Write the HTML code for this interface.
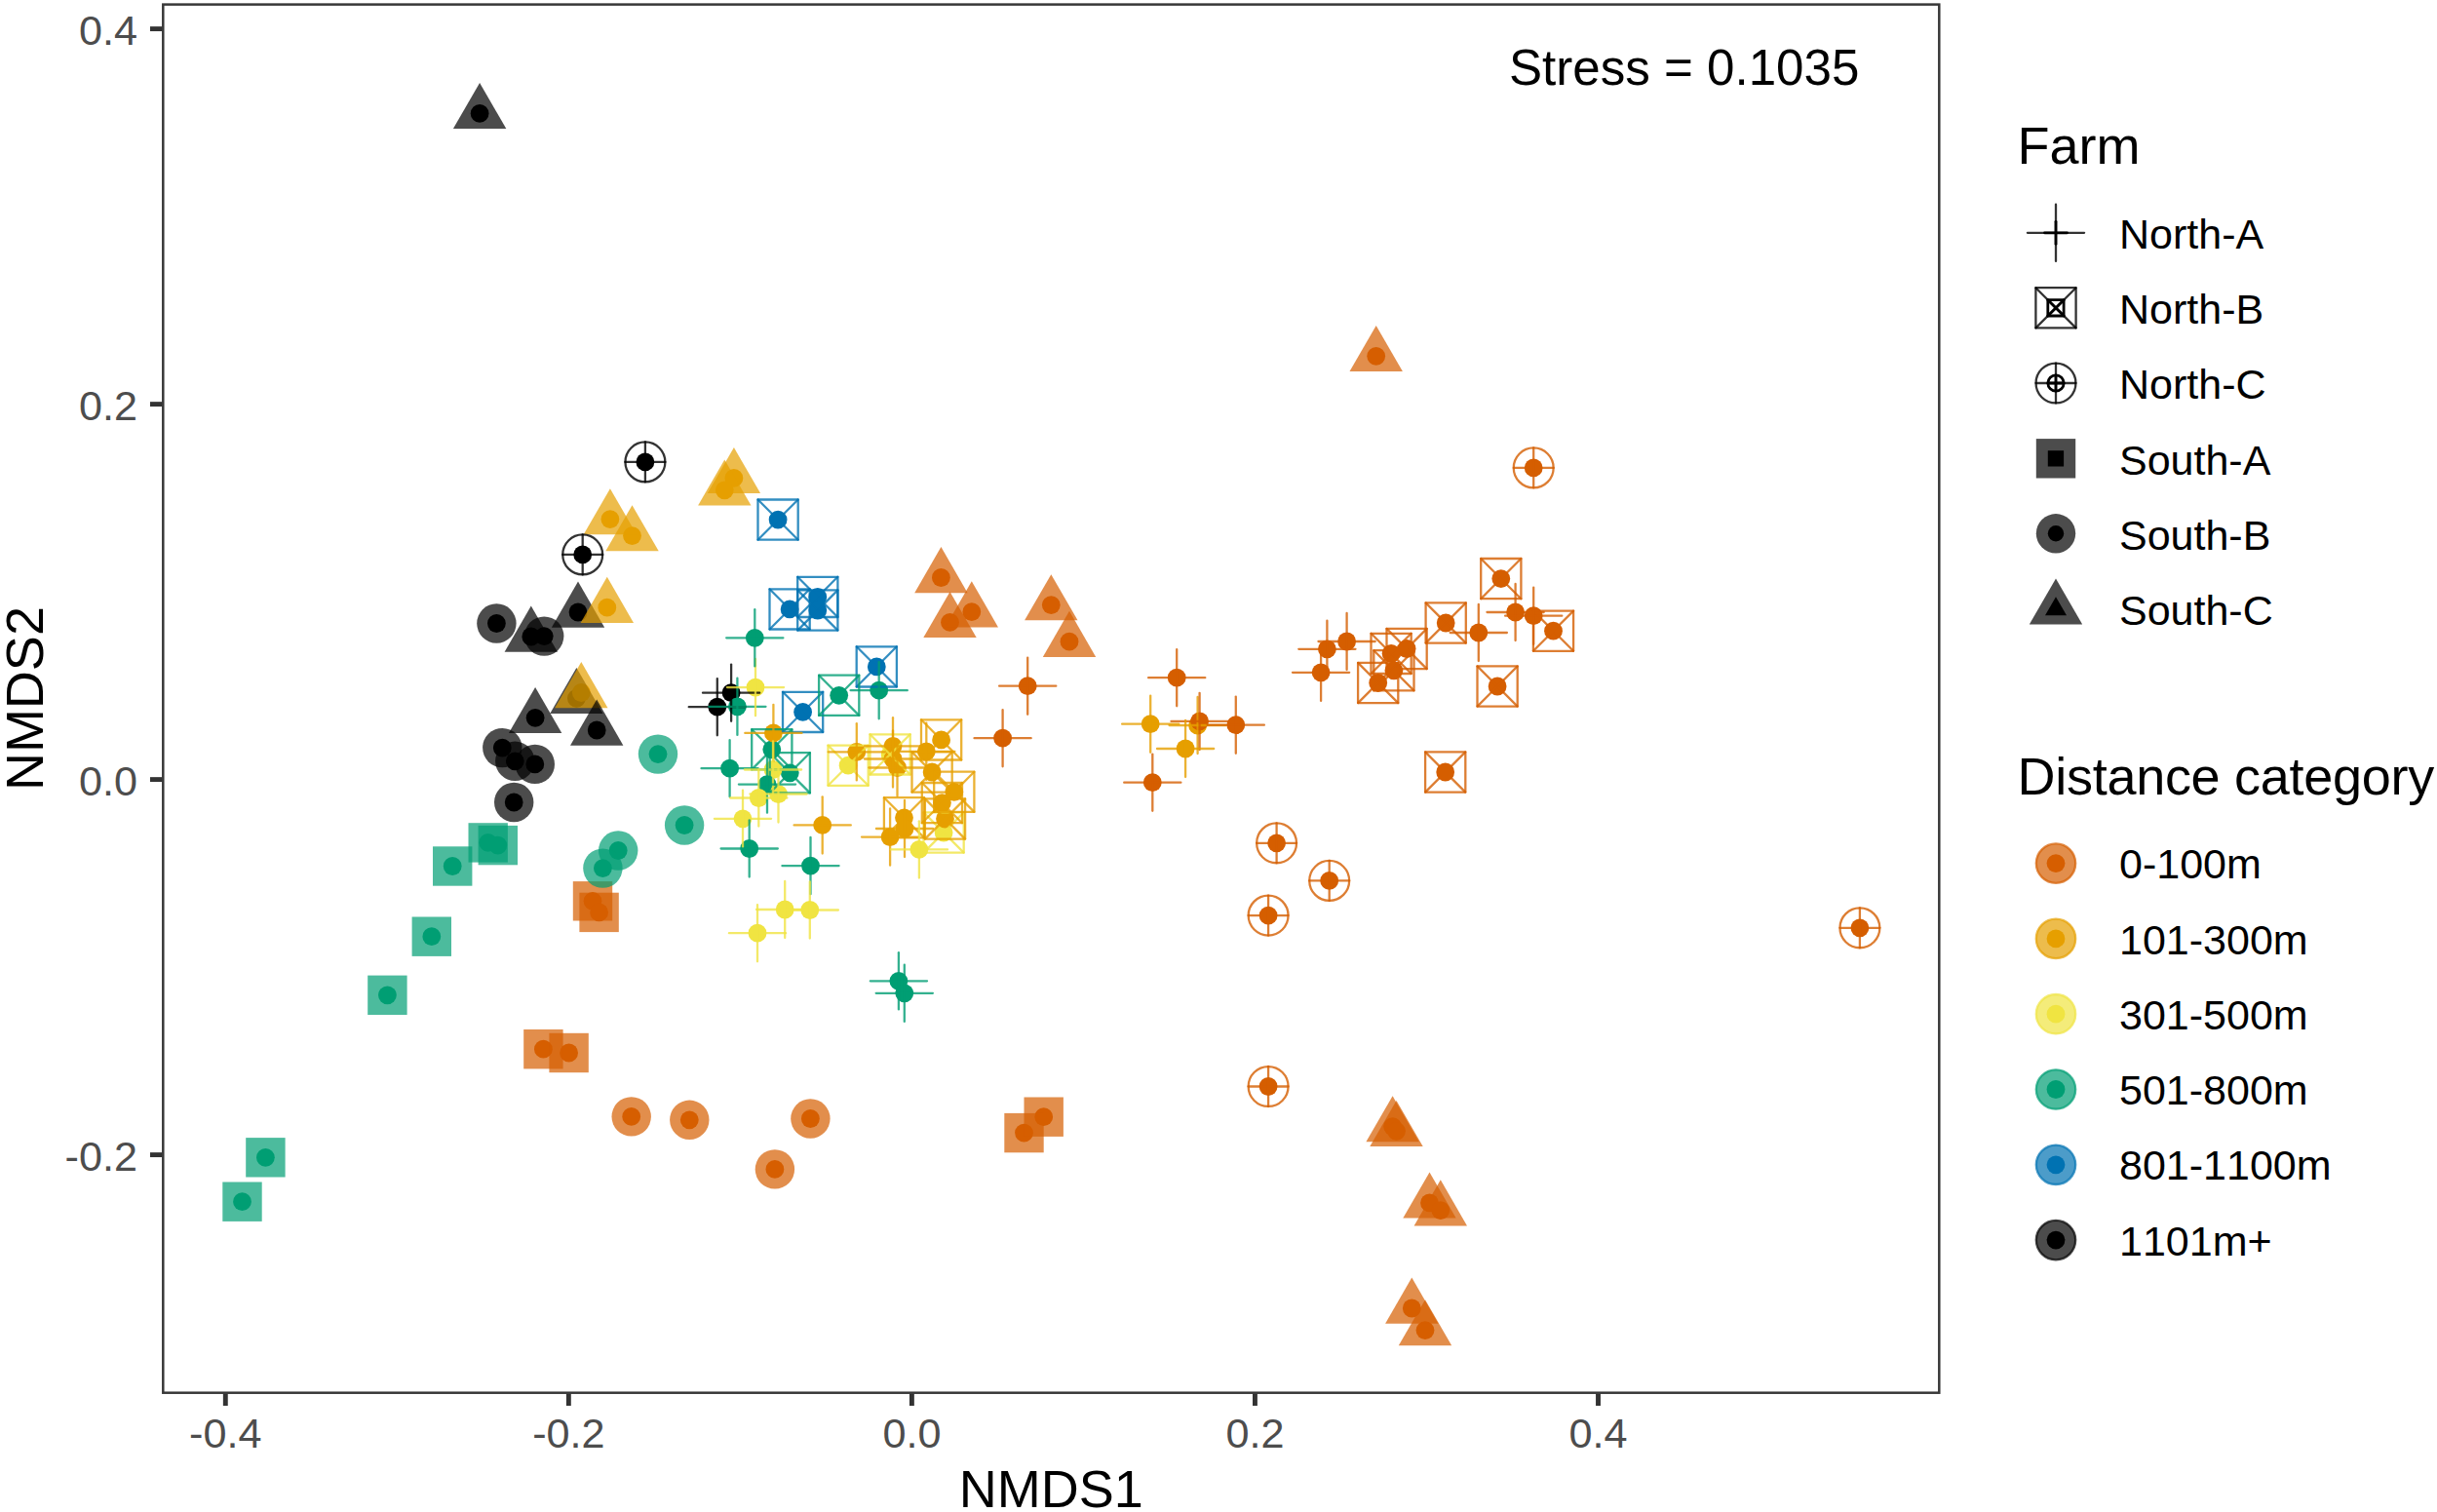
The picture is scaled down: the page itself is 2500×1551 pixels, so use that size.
<!DOCTYPE html>
<html><head><meta charset="utf-8"><title>NMDS plot</title>
<style>
html,body{margin:0;padding:0;background:#fff}
svg{display:block}
text{font-family:"Liberation Sans",Arial,sans-serif;font-kerning:none}
.tk{font-size:43.2px;fill:#4d4d4d}
.tt{font-size:54px;fill:#000}
.lg{font-size:43.0px;fill:#000}
</style></head><body>
<svg width="2500" height="1551" viewBox="0 0 2500 1551">
<rect width="2500" height="1551" fill="#fff"/>
<g id="dots">
<circle cx="492.1" cy="116.4" r="9.4" fill="#000000"/>
<circle cx="625.9" cy="532.6" r="9.4" fill="#E69F00"/>
<circle cx="648.5" cy="549.6" r="9.4" fill="#E69F00"/>
<circle cx="752.9" cy="490.4" r="9.4" fill="#E69F00"/>
<circle cx="743.3" cy="502.8" r="9.4" fill="#E69F00"/>
<circle cx="593" cy="628" r="9.4" fill="#000000"/>
<circle cx="622.8" cy="623.2" r="9.4" fill="#E69F00"/>
<circle cx="544.8" cy="653" r="9.4" fill="#000000"/>
<circle cx="591.4" cy="716.3" r="9.4" fill="#000000"/>
<circle cx="596.3" cy="710.5" r="9.4" fill="#E69F00"/>
<circle cx="549.1" cy="736.3" r="9.4" fill="#000000"/>
<circle cx="612.2" cy="749" r="9.4" fill="#000000"/>
<circle cx="965.4" cy="592.5" r="9.4" fill="#D55E00"/>
<circle cx="974.5" cy="638.4" r="9.4" fill="#D55E00"/>
<circle cx="996.8" cy="627.7" r="9.4" fill="#D55E00"/>
<circle cx="1078.3" cy="620.6" r="9.4" fill="#D55E00"/>
<circle cx="1097" cy="658.2" r="9.4" fill="#D55E00"/>
<circle cx="1411.7" cy="365.3" r="9.4" fill="#D55E00"/>
<circle cx="1428.6" cy="1155.6" r="9.4" fill="#D55E00"/>
<circle cx="1432.5" cy="1160.3" r="9.4" fill="#D55E00"/>
<circle cx="1466.5" cy="1233.9" r="9.4" fill="#D55E00"/>
<circle cx="1477.8" cy="1241.7" r="9.4" fill="#D55E00"/>
<circle cx="1448.3" cy="1342" r="9.4" fill="#D55E00"/>
<circle cx="1462" cy="1364.6" r="9.4" fill="#D55E00"/>
<circle cx="509.4" cy="639.5" r="9.4" fill="#000000"/>
<circle cx="558.2" cy="652.6" r="9.4" fill="#000000"/>
<circle cx="515.3" cy="767.1" r="9.4" fill="#000000"/>
<circle cx="528.3" cy="780.8" r="9.4" fill="#000000"/>
<circle cx="548.8" cy="783.9" r="9.4" fill="#000000"/>
<circle cx="527.2" cy="823" r="9.4" fill="#000000"/>
<circle cx="675" cy="773.6" r="9.4" fill="#009E73"/>
<circle cx="702.1" cy="846.5" r="9.4" fill="#009E73"/>
<circle cx="608" cy="924.3" r="9.4" fill="#D55E00"/>
<circle cx="614.6" cy="935.9" r="9.4" fill="#D55E00"/>
<circle cx="634.2" cy="872.5" r="9.4" fill="#009E73"/>
<circle cx="618.4" cy="890.6" r="9.4" fill="#009E73"/>
<circle cx="647.7" cy="1145.4" r="9.4" fill="#D55E00"/>
<circle cx="707.3" cy="1148.8" r="9.4" fill="#D55E00"/>
<circle cx="831.4" cy="1147.5" r="9.4" fill="#D55E00"/>
<circle cx="794.9" cy="1199.4" r="9.4" fill="#D55E00"/>
<circle cx="500.7" cy="864.4" r="9.4" fill="#009E73"/>
<circle cx="510.8" cy="867.1" r="9.4" fill="#009E73"/>
<circle cx="464.2" cy="888.5" r="9.4" fill="#009E73"/>
<circle cx="442.8" cy="960.7" r="9.4" fill="#009E73"/>
<circle cx="397.4" cy="1020.8" r="9.4" fill="#009E73"/>
<circle cx="272.4" cy="1187.3" r="9.4" fill="#009E73"/>
<circle cx="248.5" cy="1232.7" r="9.4" fill="#009E73"/>
<circle cx="557.4" cy="1076.2" r="9.4" fill="#D55E00"/>
<circle cx="583.6" cy="1080" r="9.4" fill="#D55E00"/>
<circle cx="1070.7" cy="1145.7" r="9.4" fill="#D55E00"/>
<circle cx="1050.5" cy="1162.1" r="9.4" fill="#D55E00"/>
<circle cx="661.9" cy="473.9" r="9.4" fill="#000000"/>
<circle cx="597.7" cy="568.9" r="9.4" fill="#000000"/>
<circle cx="1573.2" cy="479.9" r="9.4" fill="#D55E00"/>
<circle cx="1309.6" cy="864.8" r="9.4" fill="#D55E00"/>
<circle cx="1363.7" cy="903.4" r="9.4" fill="#D55E00"/>
<circle cx="1301.1" cy="939.1" r="9.4" fill="#D55E00"/>
<circle cx="1301.1" cy="1114.5" r="9.4" fill="#D55E00"/>
<circle cx="1907.9" cy="951.8" r="9.4" fill="#D55E00"/>
<circle cx="798.1" cy="533.1" r="9.4" fill="#0072B2"/>
<circle cx="810.1" cy="624.9" r="9.4" fill="#0072B2"/>
<circle cx="838.8" cy="612.4" r="9.4" fill="#0072B2"/>
<circle cx="838.8" cy="626" r="9.4" fill="#0072B2"/>
<circle cx="823.6" cy="730.4" r="9.4" fill="#0072B2"/>
<circle cx="899.3" cy="683.9" r="9.4" fill="#0072B2"/>
<circle cx="860.7" cy="713.3" r="9.4" fill="#009E73"/>
<circle cx="791.8" cy="768.8" r="9.4" fill="#009E73"/>
<circle cx="810.3" cy="792.8" r="9.4" fill="#009E73"/>
<circle cx="870.1" cy="785.2" r="9.4" fill="#F0E442"/>
<circle cx="913.1" cy="773.9" r="9.4" fill="#F0E442"/>
<circle cx="968.1" cy="854" r="9.4" fill="#F0E442"/>
<circle cx="965.6" cy="758.9" r="9.4" fill="#E69F00"/>
<circle cx="956.1" cy="792" r="9.4" fill="#E69F00"/>
<circle cx="978.8" cy="812.3" r="9.4" fill="#E69F00"/>
<circle cx="966.4" cy="823.6" r="9.4" fill="#E69F00"/>
<circle cx="969.5" cy="840" r="9.4" fill="#E69F00"/>
<circle cx="927.5" cy="838.8" r="9.4" fill="#E69F00"/>
<circle cx="1443.1" cy="665.5" r="9.4" fill="#D55E00"/>
<circle cx="1427.1" cy="670.4" r="9.4" fill="#D55E00"/>
<circle cx="1429.9" cy="687.8" r="9.4" fill="#D55E00"/>
<circle cx="1413.7" cy="700.5" r="9.4" fill="#D55E00"/>
<circle cx="1483.2" cy="639" r="9.4" fill="#D55E00"/>
<circle cx="1539.8" cy="593.6" r="9.4" fill="#D55E00"/>
<circle cx="1593.5" cy="647.2" r="9.4" fill="#D55E00"/>
<circle cx="1536.1" cy="704" r="9.4" fill="#D55E00"/>
<circle cx="1482.7" cy="792" r="9.4" fill="#D55E00"/>
<circle cx="750.1" cy="710.7" r="9.4" fill="#000000"/>
<circle cx="735.8" cy="725.2" r="9.4" fill="#000000"/>
<circle cx="756.4" cy="724.8" r="9.4" fill="#009E73"/>
<circle cx="775" cy="705.1" r="9.4" fill="#F0E442"/>
<circle cx="774.3" cy="654.3" r="9.4" fill="#009E73"/>
<circle cx="901.7" cy="708.2" r="9.4" fill="#009E73"/>
<circle cx="793.4" cy="751.9" r="9.4" fill="#E69F00"/>
<circle cx="748.6" cy="788.2" r="9.4" fill="#009E73"/>
<circle cx="793" cy="789.5" r="9.4" fill="#F0E442"/>
<circle cx="787" cy="804.6" r="9.4" fill="#009E73"/>
<circle cx="778.3" cy="818.5" r="9.4" fill="#F0E442"/>
<circle cx="798.5" cy="814.5" r="9.4" fill="#F0E442"/>
<circle cx="762" cy="839.8" r="9.4" fill="#F0E442"/>
<circle cx="768.7" cy="870.5" r="9.4" fill="#009E73"/>
<circle cx="831.5" cy="888.1" r="9.4" fill="#009E73"/>
<circle cx="843.7" cy="846.4" r="9.4" fill="#E69F00"/>
<circle cx="805.2" cy="933" r="9.4" fill="#F0E442"/>
<circle cx="830.8" cy="933.5" r="9.4" fill="#F0E442"/>
<circle cx="777" cy="957.2" r="9.4" fill="#F0E442"/>
<circle cx="921.9" cy="1006.3" r="9.4" fill="#009E73"/>
<circle cx="927.8" cy="1018.8" r="9.4" fill="#009E73"/>
<circle cx="878.8" cy="771.3" r="9.4" fill="#E69F00"/>
<circle cx="916" cy="765.3" r="9.4" fill="#E69F00"/>
<circle cx="916" cy="778.5" r="9.4" fill="#E69F00"/>
<circle cx="920.5" cy="787.5" r="9.4" fill="#E69F00"/>
<circle cx="950.3" cy="770.8" r="9.4" fill="#E69F00"/>
<circle cx="928" cy="850" r="9.4" fill="#E69F00"/>
<circle cx="913.1" cy="858.6" r="9.4" fill="#E69F00"/>
<circle cx="942.9" cy="871.4" r="9.4" fill="#F0E442"/>
<circle cx="1054.2" cy="703.7" r="9.4" fill="#D55E00"/>
<circle cx="1028.6" cy="757.2" r="9.4" fill="#D55E00"/>
<circle cx="1207.2" cy="695.2" r="9.4" fill="#D55E00"/>
<circle cx="1180.2" cy="742.7" r="9.4" fill="#E69F00"/>
<circle cx="1228.6" cy="744" r="9.4" fill="#E69F00"/>
<circle cx="1230.6" cy="739.9" r="9.4" fill="#D55E00"/>
<circle cx="1267.8" cy="743.7" r="9.4" fill="#D55E00"/>
<circle cx="1216.1" cy="768" r="9.4" fill="#E69F00"/>
<circle cx="1182.3" cy="802.7" r="9.4" fill="#D55E00"/>
<circle cx="1381.6" cy="658" r="9.4" fill="#D55E00"/>
<circle cx="1361.4" cy="665.8" r="9.4" fill="#D55E00"/>
<circle cx="1355.1" cy="689.8" r="9.4" fill="#D55E00"/>
<circle cx="1516.8" cy="649" r="9.4" fill="#D55E00"/>
<circle cx="1554.6" cy="628" r="9.4" fill="#D55E00"/>
<circle cx="1573.2" cy="631.7" r="9.4" fill="#D55E00"/>
</g>
<g id="shapes">
<path d="M492.1 85L519.3 132.1H464.9Z" fill="#000000" opacity="0.7"/>
<path d="M625.9 501.2L653.1 548.3H598.7Z" fill="#E69F00" opacity="0.7"/>
<path d="M648.5 518.2L675.7 565.3H621.3Z" fill="#E69F00" opacity="0.7"/>
<path d="M752.9 459L780.1 506.1H725.7Z" fill="#E69F00" opacity="0.7"/>
<path d="M743.3 471.4L770.5 518.5H716.1Z" fill="#E69F00" opacity="0.7"/>
<path d="M593 596.6L620.2 643.7H565.8Z" fill="#000000" opacity="0.7"/>
<path d="M622.8 591.8L650 638.9H595.6Z" fill="#E69F00" opacity="0.7"/>
<path d="M544.8 621.6L572 668.7H517.6Z" fill="#000000" opacity="0.7"/>
<path d="M591.4 684.9L618.6 732H564.2Z" fill="#000000" opacity="0.7"/>
<path d="M596.3 679.1L623.5 726.2H569.1Z" fill="#E69F00" opacity="0.7"/>
<path d="M549.1 704.9L576.3 752H521.9Z" fill="#000000" opacity="0.7"/>
<path d="M612.2 717.6L639.4 764.7H585Z" fill="#000000" opacity="0.7"/>
<path d="M965.4 561.1L992.6 608.2H938.2Z" fill="#D55E00" opacity="0.7"/>
<path d="M974.5 607L1001.7 654.1H947.3Z" fill="#D55E00" opacity="0.7"/>
<path d="M996.8 596.3L1024 643.4H969.6Z" fill="#D55E00" opacity="0.7"/>
<path d="M1078.3 589.2L1105.5 636.3H1051.1Z" fill="#D55E00" opacity="0.7"/>
<path d="M1097 626.8L1124.2 673.9H1069.8Z" fill="#D55E00" opacity="0.7"/>
<path d="M1411.7 333.9L1438.9 381H1384.5Z" fill="#D55E00" opacity="0.7"/>
<path d="M1428.6 1124.2L1455.8 1171.3H1401.4Z" fill="#D55E00" opacity="0.7"/>
<path d="M1432.5 1128.9L1459.7 1176H1405.3Z" fill="#D55E00" opacity="0.7"/>
<path d="M1466.5 1202.5L1493.7 1249.6H1439.3Z" fill="#D55E00" opacity="0.7"/>
<path d="M1477.8 1210.3L1505 1257.4H1450.6Z" fill="#D55E00" opacity="0.7"/>
<path d="M1448.3 1310.6L1475.5 1357.7H1421.1Z" fill="#D55E00" opacity="0.7"/>
<path d="M1462 1333.2L1489.2 1380.3H1434.8Z" fill="#D55E00" opacity="0.7"/>
<circle cx="509.4" cy="639.5" r="20.2" fill="#000000" opacity="0.7"/>
<circle cx="558.2" cy="652.6" r="20.2" fill="#000000" opacity="0.7"/>
<circle cx="515.3" cy="767.1" r="20.2" fill="#000000" opacity="0.7"/>
<circle cx="528.3" cy="780.8" r="20.2" fill="#000000" opacity="0.7"/>
<circle cx="548.8" cy="783.9" r="20.2" fill="#000000" opacity="0.7"/>
<circle cx="527.2" cy="823" r="20.2" fill="#000000" opacity="0.7"/>
<circle cx="675" cy="773.6" r="20.2" fill="#009E73" opacity="0.7"/>
<circle cx="702.1" cy="846.5" r="20.2" fill="#009E73" opacity="0.7"/>
<rect x="587.8" y="904.1" width="40.4" height="40.4" fill="#D55E00" opacity="0.7"/>
<rect x="594.4" y="915.7" width="40.4" height="40.4" fill="#D55E00" opacity="0.7"/>
<circle cx="634.2" cy="872.5" r="20.2" fill="#009E73" opacity="0.7"/>
<circle cx="618.4" cy="890.6" r="20.2" fill="#009E73" opacity="0.7"/>
<circle cx="647.7" cy="1145.4" r="20.2" fill="#D55E00" opacity="0.7"/>
<circle cx="707.3" cy="1148.8" r="20.2" fill="#D55E00" opacity="0.7"/>
<circle cx="831.4" cy="1147.5" r="20.2" fill="#D55E00" opacity="0.7"/>
<circle cx="794.9" cy="1199.4" r="20.2" fill="#D55E00" opacity="0.7"/>
<rect x="480.5" y="844.2" width="40.4" height="40.4" fill="#009E73" opacity="0.7"/>
<rect x="490.6" y="846.9" width="40.4" height="40.4" fill="#009E73" opacity="0.7"/>
<rect x="444" y="868.3" width="40.4" height="40.4" fill="#009E73" opacity="0.7"/>
<rect x="422.6" y="940.5" width="40.4" height="40.4" fill="#009E73" opacity="0.7"/>
<rect x="377.2" y="1000.6" width="40.4" height="40.4" fill="#009E73" opacity="0.7"/>
<rect x="252.2" y="1167.1" width="40.4" height="40.4" fill="#009E73" opacity="0.7"/>
<rect x="228.3" y="1212.5" width="40.4" height="40.4" fill="#009E73" opacity="0.7"/>
<rect x="537.2" y="1056" width="40.4" height="40.4" fill="#D55E00" opacity="0.7"/>
<rect x="563.4" y="1059.8" width="40.4" height="40.4" fill="#D55E00" opacity="0.7"/>
<rect x="1050.5" y="1125.5" width="40.4" height="40.4" fill="#D55E00" opacity="0.7"/>
<rect x="1030.3" y="1141.9" width="40.4" height="40.4" fill="#D55E00" opacity="0.7"/>
<circle cx="661.9" cy="473.9" r="20.45" stroke="#000000" stroke-width="2.3" stroke-linecap="round" fill="none" opacity="0.8"/><path d="M641.4 473.9H682.4" stroke="#000000" stroke-width="2.3" stroke-linecap="round" fill="none" opacity="0.8"/><path d="M661.9 453.4V494.3" stroke="#000000" stroke-width="2.3" stroke-linecap="round" fill="none" opacity="0.8"/>
<circle cx="597.7" cy="568.9" r="20.45" stroke="#000000" stroke-width="2.3" stroke-linecap="round" fill="none" opacity="0.8"/><path d="M577.2 568.9H618.2" stroke="#000000" stroke-width="2.3" stroke-linecap="round" fill="none" opacity="0.8"/><path d="M597.7 548.4V589.4" stroke="#000000" stroke-width="2.3" stroke-linecap="round" fill="none" opacity="0.8"/>
<circle cx="1573.2" cy="479.9" r="20.45" stroke="#D55E00" stroke-width="2.3" stroke-linecap="round" fill="none" opacity="0.8"/><path d="M1552.8 479.9H1593.7" stroke="#D55E00" stroke-width="2.3" stroke-linecap="round" fill="none" opacity="0.8"/><path d="M1573.2 459.4V500.3" stroke="#D55E00" stroke-width="2.3" stroke-linecap="round" fill="none" opacity="0.8"/>
<circle cx="1309.6" cy="864.8" r="20.45" stroke="#D55E00" stroke-width="2.3" stroke-linecap="round" fill="none" opacity="0.8"/><path d="M1289.1 864.8H1330" stroke="#D55E00" stroke-width="2.3" stroke-linecap="round" fill="none" opacity="0.8"/><path d="M1309.6 844.3V885.2" stroke="#D55E00" stroke-width="2.3" stroke-linecap="round" fill="none" opacity="0.8"/>
<circle cx="1363.7" cy="903.4" r="20.45" stroke="#D55E00" stroke-width="2.3" stroke-linecap="round" fill="none" opacity="0.8"/><path d="M1343.2 903.4H1384.2" stroke="#D55E00" stroke-width="2.3" stroke-linecap="round" fill="none" opacity="0.8"/><path d="M1363.7 882.9V923.9" stroke="#D55E00" stroke-width="2.3" stroke-linecap="round" fill="none" opacity="0.8"/>
<circle cx="1301.1" cy="939.1" r="20.45" stroke="#D55E00" stroke-width="2.3" stroke-linecap="round" fill="none" opacity="0.8"/><path d="M1280.6 939.1H1321.5" stroke="#D55E00" stroke-width="2.3" stroke-linecap="round" fill="none" opacity="0.8"/><path d="M1301.1 918.6V959.6" stroke="#D55E00" stroke-width="2.3" stroke-linecap="round" fill="none" opacity="0.8"/>
<circle cx="1301.1" cy="1114.5" r="20.45" stroke="#D55E00" stroke-width="2.3" stroke-linecap="round" fill="none" opacity="0.8"/><path d="M1280.6 1114.5H1321.5" stroke="#D55E00" stroke-width="2.3" stroke-linecap="round" fill="none" opacity="0.8"/><path d="M1301.1 1094V1135" stroke="#D55E00" stroke-width="2.3" stroke-linecap="round" fill="none" opacity="0.8"/>
<circle cx="1907.9" cy="951.8" r="20.45" stroke="#D55E00" stroke-width="2.3" stroke-linecap="round" fill="none" opacity="0.8"/><path d="M1887.5 951.8H1928.4" stroke="#D55E00" stroke-width="2.3" stroke-linecap="round" fill="none" opacity="0.8"/><path d="M1907.9 931.3V972.2" stroke="#D55E00" stroke-width="2.3" stroke-linecap="round" fill="none" opacity="0.8"/>
<rect x="777.5" y="512.5" width="41.2" height="41.2" stroke="#0072B2" stroke-width="2.3" stroke-linecap="round" stroke-linejoin="round" fill="none" opacity="0.8"/><path d="M777.5 512.5L818.7 553.7" stroke="#0072B2" stroke-width="2.3" stroke-linecap="round" stroke-linejoin="round" fill="none" opacity="0.8"/><path d="M777.5 553.7L818.7 512.5" stroke="#0072B2" stroke-width="2.3" stroke-linecap="round" stroke-linejoin="round" fill="none" opacity="0.8"/>
<rect x="789.5" y="604.3" width="41.2" height="41.2" stroke="#0072B2" stroke-width="2.3" stroke-linecap="round" stroke-linejoin="round" fill="none" opacity="0.8"/><path d="M789.5 604.3L830.7 645.5" stroke="#0072B2" stroke-width="2.3" stroke-linecap="round" stroke-linejoin="round" fill="none" opacity="0.8"/><path d="M789.5 645.5L830.7 604.3" stroke="#0072B2" stroke-width="2.3" stroke-linecap="round" stroke-linejoin="round" fill="none" opacity="0.8"/>
<rect x="818.2" y="591.8" width="41.2" height="41.2" stroke="#0072B2" stroke-width="2.3" stroke-linecap="round" stroke-linejoin="round" fill="none" opacity="0.8"/><path d="M818.2 591.8L859.4 633" stroke="#0072B2" stroke-width="2.3" stroke-linecap="round" stroke-linejoin="round" fill="none" opacity="0.8"/><path d="M818.2 633L859.4 591.8" stroke="#0072B2" stroke-width="2.3" stroke-linecap="round" stroke-linejoin="round" fill="none" opacity="0.8"/>
<rect x="818.2" y="605.4" width="41.2" height="41.2" stroke="#0072B2" stroke-width="2.3" stroke-linecap="round" stroke-linejoin="round" fill="none" opacity="0.8"/><path d="M818.2 605.4L859.4 646.6" stroke="#0072B2" stroke-width="2.3" stroke-linecap="round" stroke-linejoin="round" fill="none" opacity="0.8"/><path d="M818.2 646.6L859.4 605.4" stroke="#0072B2" stroke-width="2.3" stroke-linecap="round" stroke-linejoin="round" fill="none" opacity="0.8"/>
<rect x="803" y="709.8" width="41.2" height="41.2" stroke="#0072B2" stroke-width="2.3" stroke-linecap="round" stroke-linejoin="round" fill="none" opacity="0.8"/><path d="M803 709.8L844.2 751" stroke="#0072B2" stroke-width="2.3" stroke-linecap="round" stroke-linejoin="round" fill="none" opacity="0.8"/><path d="M803 751L844.2 709.8" stroke="#0072B2" stroke-width="2.3" stroke-linecap="round" stroke-linejoin="round" fill="none" opacity="0.8"/>
<rect x="878.7" y="663.3" width="41.2" height="41.2" stroke="#0072B2" stroke-width="2.3" stroke-linecap="round" stroke-linejoin="round" fill="none" opacity="0.8"/><path d="M878.7 663.3L919.9 704.5" stroke="#0072B2" stroke-width="2.3" stroke-linecap="round" stroke-linejoin="round" fill="none" opacity="0.8"/><path d="M878.7 704.5L919.9 663.3" stroke="#0072B2" stroke-width="2.3" stroke-linecap="round" stroke-linejoin="round" fill="none" opacity="0.8"/>
<rect x="840.1" y="692.7" width="41.2" height="41.2" stroke="#009E73" stroke-width="2.3" stroke-linecap="round" stroke-linejoin="round" fill="none" opacity="0.8"/><path d="M840.1 692.7L881.3 733.9" stroke="#009E73" stroke-width="2.3" stroke-linecap="round" stroke-linejoin="round" fill="none" opacity="0.8"/><path d="M840.1 733.9L881.3 692.7" stroke="#009E73" stroke-width="2.3" stroke-linecap="round" stroke-linejoin="round" fill="none" opacity="0.8"/>
<rect x="771.2" y="748.2" width="41.2" height="41.2" stroke="#009E73" stroke-width="2.3" stroke-linecap="round" stroke-linejoin="round" fill="none" opacity="0.8"/><path d="M771.2 748.2L812.4 789.4" stroke="#009E73" stroke-width="2.3" stroke-linecap="round" stroke-linejoin="round" fill="none" opacity="0.8"/><path d="M771.2 789.4L812.4 748.2" stroke="#009E73" stroke-width="2.3" stroke-linecap="round" stroke-linejoin="round" fill="none" opacity="0.8"/>
<rect x="789.7" y="772.2" width="41.2" height="41.2" stroke="#009E73" stroke-width="2.3" stroke-linecap="round" stroke-linejoin="round" fill="none" opacity="0.8"/><path d="M789.7 772.2L830.9 813.4" stroke="#009E73" stroke-width="2.3" stroke-linecap="round" stroke-linejoin="round" fill="none" opacity="0.8"/><path d="M789.7 813.4L830.9 772.2" stroke="#009E73" stroke-width="2.3" stroke-linecap="round" stroke-linejoin="round" fill="none" opacity="0.8"/>
<rect x="849.5" y="764.6" width="41.2" height="41.2" stroke="#F0E442" stroke-width="2.3" stroke-linecap="round" stroke-linejoin="round" fill="none" opacity="0.8"/><path d="M849.5 764.6L890.7 805.8" stroke="#F0E442" stroke-width="2.3" stroke-linecap="round" stroke-linejoin="round" fill="none" opacity="0.8"/><path d="M849.5 805.8L890.7 764.6" stroke="#F0E442" stroke-width="2.3" stroke-linecap="round" stroke-linejoin="round" fill="none" opacity="0.8"/>
<rect x="892.5" y="753.3" width="41.2" height="41.2" stroke="#F0E442" stroke-width="2.3" stroke-linecap="round" stroke-linejoin="round" fill="none" opacity="0.8"/><path d="M892.5 753.3L933.7 794.5" stroke="#F0E442" stroke-width="2.3" stroke-linecap="round" stroke-linejoin="round" fill="none" opacity="0.8"/><path d="M892.5 794.5L933.7 753.3" stroke="#F0E442" stroke-width="2.3" stroke-linecap="round" stroke-linejoin="round" fill="none" opacity="0.8"/>
<rect x="947.5" y="833.4" width="41.2" height="41.2" stroke="#F0E442" stroke-width="2.3" stroke-linecap="round" stroke-linejoin="round" fill="none" opacity="0.8"/><path d="M947.5 833.4L988.7 874.6" stroke="#F0E442" stroke-width="2.3" stroke-linecap="round" stroke-linejoin="round" fill="none" opacity="0.8"/><path d="M947.5 874.6L988.7 833.4" stroke="#F0E442" stroke-width="2.3" stroke-linecap="round" stroke-linejoin="round" fill="none" opacity="0.8"/>
<rect x="945" y="738.3" width="41.2" height="41.2" stroke="#E69F00" stroke-width="2.3" stroke-linecap="round" stroke-linejoin="round" fill="none" opacity="0.8"/><path d="M945 738.3L986.2 779.5" stroke="#E69F00" stroke-width="2.3" stroke-linecap="round" stroke-linejoin="round" fill="none" opacity="0.8"/><path d="M945 779.5L986.2 738.3" stroke="#E69F00" stroke-width="2.3" stroke-linecap="round" stroke-linejoin="round" fill="none" opacity="0.8"/>
<rect x="935.5" y="771.4" width="41.2" height="41.2" stroke="#E69F00" stroke-width="2.3" stroke-linecap="round" stroke-linejoin="round" fill="none" opacity="0.8"/><path d="M935.5 771.4L976.7 812.6" stroke="#E69F00" stroke-width="2.3" stroke-linecap="round" stroke-linejoin="round" fill="none" opacity="0.8"/><path d="M935.5 812.6L976.7 771.4" stroke="#E69F00" stroke-width="2.3" stroke-linecap="round" stroke-linejoin="round" fill="none" opacity="0.8"/>
<rect x="958.2" y="791.7" width="41.2" height="41.2" stroke="#E69F00" stroke-width="2.3" stroke-linecap="round" stroke-linejoin="round" fill="none" opacity="0.8"/><path d="M958.2 791.7L999.4 832.9" stroke="#E69F00" stroke-width="2.3" stroke-linecap="round" stroke-linejoin="round" fill="none" opacity="0.8"/><path d="M958.2 832.9L999.4 791.7" stroke="#E69F00" stroke-width="2.3" stroke-linecap="round" stroke-linejoin="round" fill="none" opacity="0.8"/>
<rect x="945.8" y="803" width="41.2" height="41.2" stroke="#E69F00" stroke-width="2.3" stroke-linecap="round" stroke-linejoin="round" fill="none" opacity="0.8"/><path d="M945.8 803L987 844.2" stroke="#E69F00" stroke-width="2.3" stroke-linecap="round" stroke-linejoin="round" fill="none" opacity="0.8"/><path d="M945.8 844.2L987 803" stroke="#E69F00" stroke-width="2.3" stroke-linecap="round" stroke-linejoin="round" fill="none" opacity="0.8"/>
<rect x="948.9" y="819.4" width="41.2" height="41.2" stroke="#E69F00" stroke-width="2.3" stroke-linecap="round" stroke-linejoin="round" fill="none" opacity="0.8"/><path d="M948.9 819.4L990.1 860.6" stroke="#E69F00" stroke-width="2.3" stroke-linecap="round" stroke-linejoin="round" fill="none" opacity="0.8"/><path d="M948.9 860.6L990.1 819.4" stroke="#E69F00" stroke-width="2.3" stroke-linecap="round" stroke-linejoin="round" fill="none" opacity="0.8"/>
<rect x="906.9" y="818.2" width="41.2" height="41.2" stroke="#E69F00" stroke-width="2.3" stroke-linecap="round" stroke-linejoin="round" fill="none" opacity="0.8"/><path d="M906.9 818.2L948.1 859.4" stroke="#E69F00" stroke-width="2.3" stroke-linecap="round" stroke-linejoin="round" fill="none" opacity="0.8"/><path d="M906.9 859.4L948.1 818.2" stroke="#E69F00" stroke-width="2.3" stroke-linecap="round" stroke-linejoin="round" fill="none" opacity="0.8"/>
<rect x="1422.5" y="644.9" width="41.2" height="41.2" stroke="#D55E00" stroke-width="2.3" stroke-linecap="round" stroke-linejoin="round" fill="none" opacity="0.8"/><path d="M1422.5 644.9L1463.7 686.1" stroke="#D55E00" stroke-width="2.3" stroke-linecap="round" stroke-linejoin="round" fill="none" opacity="0.8"/><path d="M1422.5 686.1L1463.7 644.9" stroke="#D55E00" stroke-width="2.3" stroke-linecap="round" stroke-linejoin="round" fill="none" opacity="0.8"/>
<rect x="1406.5" y="649.8" width="41.2" height="41.2" stroke="#D55E00" stroke-width="2.3" stroke-linecap="round" stroke-linejoin="round" fill="none" opacity="0.8"/><path d="M1406.5 649.8L1447.7 691" stroke="#D55E00" stroke-width="2.3" stroke-linecap="round" stroke-linejoin="round" fill="none" opacity="0.8"/><path d="M1406.5 691L1447.7 649.8" stroke="#D55E00" stroke-width="2.3" stroke-linecap="round" stroke-linejoin="round" fill="none" opacity="0.8"/>
<rect x="1409.3" y="667.2" width="41.2" height="41.2" stroke="#D55E00" stroke-width="2.3" stroke-linecap="round" stroke-linejoin="round" fill="none" opacity="0.8"/><path d="M1409.3 667.2L1450.5 708.4" stroke="#D55E00" stroke-width="2.3" stroke-linecap="round" stroke-linejoin="round" fill="none" opacity="0.8"/><path d="M1409.3 708.4L1450.5 667.2" stroke="#D55E00" stroke-width="2.3" stroke-linecap="round" stroke-linejoin="round" fill="none" opacity="0.8"/>
<rect x="1393.1" y="679.9" width="41.2" height="41.2" stroke="#D55E00" stroke-width="2.3" stroke-linecap="round" stroke-linejoin="round" fill="none" opacity="0.8"/><path d="M1393.1 679.9L1434.3 721.1" stroke="#D55E00" stroke-width="2.3" stroke-linecap="round" stroke-linejoin="round" fill="none" opacity="0.8"/><path d="M1393.1 721.1L1434.3 679.9" stroke="#D55E00" stroke-width="2.3" stroke-linecap="round" stroke-linejoin="round" fill="none" opacity="0.8"/>
<rect x="1462.6" y="618.4" width="41.2" height="41.2" stroke="#D55E00" stroke-width="2.3" stroke-linecap="round" stroke-linejoin="round" fill="none" opacity="0.8"/><path d="M1462.6 618.4L1503.8 659.6" stroke="#D55E00" stroke-width="2.3" stroke-linecap="round" stroke-linejoin="round" fill="none" opacity="0.8"/><path d="M1462.6 659.6L1503.8 618.4" stroke="#D55E00" stroke-width="2.3" stroke-linecap="round" stroke-linejoin="round" fill="none" opacity="0.8"/>
<rect x="1519.2" y="573" width="41.2" height="41.2" stroke="#D55E00" stroke-width="2.3" stroke-linecap="round" stroke-linejoin="round" fill="none" opacity="0.8"/><path d="M1519.2 573L1560.4 614.2" stroke="#D55E00" stroke-width="2.3" stroke-linecap="round" stroke-linejoin="round" fill="none" opacity="0.8"/><path d="M1519.2 614.2L1560.4 573" stroke="#D55E00" stroke-width="2.3" stroke-linecap="round" stroke-linejoin="round" fill="none" opacity="0.8"/>
<rect x="1572.9" y="626.6" width="41.2" height="41.2" stroke="#D55E00" stroke-width="2.3" stroke-linecap="round" stroke-linejoin="round" fill="none" opacity="0.8"/><path d="M1572.9 626.6L1614.1 667.8" stroke="#D55E00" stroke-width="2.3" stroke-linecap="round" stroke-linejoin="round" fill="none" opacity="0.8"/><path d="M1572.9 667.8L1614.1 626.6" stroke="#D55E00" stroke-width="2.3" stroke-linecap="round" stroke-linejoin="round" fill="none" opacity="0.8"/>
<rect x="1515.5" y="683.4" width="41.2" height="41.2" stroke="#D55E00" stroke-width="2.3" stroke-linecap="round" stroke-linejoin="round" fill="none" opacity="0.8"/><path d="M1515.5 683.4L1556.7 724.6" stroke="#D55E00" stroke-width="2.3" stroke-linecap="round" stroke-linejoin="round" fill="none" opacity="0.8"/><path d="M1515.5 724.6L1556.7 683.4" stroke="#D55E00" stroke-width="2.3" stroke-linecap="round" stroke-linejoin="round" fill="none" opacity="0.8"/>
<rect x="1462.1" y="771.4" width="41.2" height="41.2" stroke="#D55E00" stroke-width="2.3" stroke-linecap="round" stroke-linejoin="round" fill="none" opacity="0.8"/><path d="M1462.1 771.4L1503.3 812.6" stroke="#D55E00" stroke-width="2.3" stroke-linecap="round" stroke-linejoin="round" fill="none" opacity="0.8"/><path d="M1462.1 812.6L1503.3 771.4" stroke="#D55E00" stroke-width="2.3" stroke-linecap="round" stroke-linejoin="round" fill="none" opacity="0.8"/>
<path d="M721 710.7H779.2" stroke="#000000" stroke-width="2.3" stroke-linecap="round" fill="none" opacity="0.8"/><path d="M750.1 681.6V739.8" stroke="#000000" stroke-width="2.3" stroke-linecap="round" fill="none" opacity="0.8"/>
<path d="M706.7 725.2H764.9" stroke="#000000" stroke-width="2.3" stroke-linecap="round" fill="none" opacity="0.8"/><path d="M735.8 696.1V754.3" stroke="#000000" stroke-width="2.3" stroke-linecap="round" fill="none" opacity="0.8"/>
<path d="M727.3 724.8H785.5" stroke="#009E73" stroke-width="2.3" stroke-linecap="round" fill="none" opacity="0.8"/><path d="M756.4 695.7V753.9" stroke="#009E73" stroke-width="2.3" stroke-linecap="round" fill="none" opacity="0.8"/>
<path d="M745.9 705.1H804.1" stroke="#F0E442" stroke-width="2.3" stroke-linecap="round" fill="none" opacity="0.8"/><path d="M775 676V734.2" stroke="#F0E442" stroke-width="2.3" stroke-linecap="round" fill="none" opacity="0.8"/>
<path d="M745.2 654.3H803.4" stroke="#009E73" stroke-width="2.3" stroke-linecap="round" fill="none" opacity="0.8"/><path d="M774.3 625.2V683.4" stroke="#009E73" stroke-width="2.3" stroke-linecap="round" fill="none" opacity="0.8"/>
<path d="M872.6 708.2H930.8" stroke="#009E73" stroke-width="2.3" stroke-linecap="round" fill="none" opacity="0.8"/><path d="M901.7 679.1V737.3" stroke="#009E73" stroke-width="2.3" stroke-linecap="round" fill="none" opacity="0.8"/>
<path d="M764.3 751.9H822.5" stroke="#E69F00" stroke-width="2.3" stroke-linecap="round" fill="none" opacity="0.8"/><path d="M793.4 722.8V781" stroke="#E69F00" stroke-width="2.3" stroke-linecap="round" fill="none" opacity="0.8"/>
<path d="M719.5 788.2H777.7" stroke="#009E73" stroke-width="2.3" stroke-linecap="round" fill="none" opacity="0.8"/><path d="M748.6 759.1V817.3" stroke="#009E73" stroke-width="2.3" stroke-linecap="round" fill="none" opacity="0.8"/>
<path d="M763.9 789.5H822.1" stroke="#F0E442" stroke-width="2.3" stroke-linecap="round" fill="none" opacity="0.8"/><path d="M793 760.4V818.6" stroke="#F0E442" stroke-width="2.3" stroke-linecap="round" fill="none" opacity="0.8"/>
<path d="M757.9 804.6H816.1" stroke="#009E73" stroke-width="2.3" stroke-linecap="round" fill="none" opacity="0.8"/><path d="M787 775.5V833.7" stroke="#009E73" stroke-width="2.3" stroke-linecap="round" fill="none" opacity="0.8"/>
<path d="M749.2 818.5H807.4" stroke="#F0E442" stroke-width="2.3" stroke-linecap="round" fill="none" opacity="0.8"/><path d="M778.3 789.4V847.6" stroke="#F0E442" stroke-width="2.3" stroke-linecap="round" fill="none" opacity="0.8"/>
<path d="M769.4 814.5H827.6" stroke="#F0E442" stroke-width="2.3" stroke-linecap="round" fill="none" opacity="0.8"/><path d="M798.5 785.4V843.6" stroke="#F0E442" stroke-width="2.3" stroke-linecap="round" fill="none" opacity="0.8"/>
<path d="M732.9 839.8H791.1" stroke="#F0E442" stroke-width="2.3" stroke-linecap="round" fill="none" opacity="0.8"/><path d="M762 810.7V868.9" stroke="#F0E442" stroke-width="2.3" stroke-linecap="round" fill="none" opacity="0.8"/>
<path d="M739.6 870.5H797.8" stroke="#009E73" stroke-width="2.3" stroke-linecap="round" fill="none" opacity="0.8"/><path d="M768.7 841.4V899.6" stroke="#009E73" stroke-width="2.3" stroke-linecap="round" fill="none" opacity="0.8"/>
<path d="M802.4 888.1H860.6" stroke="#009E73" stroke-width="2.3" stroke-linecap="round" fill="none" opacity="0.8"/><path d="M831.5 859V917.2" stroke="#009E73" stroke-width="2.3" stroke-linecap="round" fill="none" opacity="0.8"/>
<path d="M814.6 846.4H872.8" stroke="#E69F00" stroke-width="2.3" stroke-linecap="round" fill="none" opacity="0.8"/><path d="M843.7 817.3V875.5" stroke="#E69F00" stroke-width="2.3" stroke-linecap="round" fill="none" opacity="0.8"/>
<path d="M776.1 933H834.3" stroke="#F0E442" stroke-width="2.3" stroke-linecap="round" fill="none" opacity="0.8"/><path d="M805.2 903.9V962.1" stroke="#F0E442" stroke-width="2.3" stroke-linecap="round" fill="none" opacity="0.8"/>
<path d="M801.7 933.5H859.9" stroke="#F0E442" stroke-width="2.3" stroke-linecap="round" fill="none" opacity="0.8"/><path d="M830.8 904.4V962.6" stroke="#F0E442" stroke-width="2.3" stroke-linecap="round" fill="none" opacity="0.8"/>
<path d="M747.9 957.2H806.1" stroke="#F0E442" stroke-width="2.3" stroke-linecap="round" fill="none" opacity="0.8"/><path d="M777 928.1V986.3" stroke="#F0E442" stroke-width="2.3" stroke-linecap="round" fill="none" opacity="0.8"/>
<path d="M892.8 1006.3H951" stroke="#009E73" stroke-width="2.3" stroke-linecap="round" fill="none" opacity="0.8"/><path d="M921.9 977.2V1035.4" stroke="#009E73" stroke-width="2.3" stroke-linecap="round" fill="none" opacity="0.8"/>
<path d="M898.7 1018.8H956.9" stroke="#009E73" stroke-width="2.3" stroke-linecap="round" fill="none" opacity="0.8"/><path d="M927.8 989.7V1047.9" stroke="#009E73" stroke-width="2.3" stroke-linecap="round" fill="none" opacity="0.8"/>
<path d="M849.7 771.3H907.9" stroke="#E69F00" stroke-width="2.3" stroke-linecap="round" fill="none" opacity="0.8"/><path d="M878.8 742.2V800.4" stroke="#E69F00" stroke-width="2.3" stroke-linecap="round" fill="none" opacity="0.8"/>
<path d="M886.9 765.3H945.1" stroke="#E69F00" stroke-width="2.3" stroke-linecap="round" fill="none" opacity="0.8"/><path d="M916 736.2V794.4" stroke="#E69F00" stroke-width="2.3" stroke-linecap="round" fill="none" opacity="0.8"/>
<path d="M886.9 778.5H945.1" stroke="#E69F00" stroke-width="2.3" stroke-linecap="round" fill="none" opacity="0.8"/><path d="M916 749.4V807.6" stroke="#E69F00" stroke-width="2.3" stroke-linecap="round" fill="none" opacity="0.8"/>
<path d="M891.4 787.5H949.6" stroke="#E69F00" stroke-width="2.3" stroke-linecap="round" fill="none" opacity="0.8"/><path d="M920.5 758.4V816.6" stroke="#E69F00" stroke-width="2.3" stroke-linecap="round" fill="none" opacity="0.8"/>
<path d="M921.2 770.8H979.4" stroke="#E69F00" stroke-width="2.3" stroke-linecap="round" fill="none" opacity="0.8"/><path d="M950.3 741.7V799.9" stroke="#E69F00" stroke-width="2.3" stroke-linecap="round" fill="none" opacity="0.8"/>
<path d="M898.9 850H957.1" stroke="#E69F00" stroke-width="2.3" stroke-linecap="round" fill="none" opacity="0.8"/><path d="M928 820.9V879.1" stroke="#E69F00" stroke-width="2.3" stroke-linecap="round" fill="none" opacity="0.8"/>
<path d="M884 858.6H942.2" stroke="#E69F00" stroke-width="2.3" stroke-linecap="round" fill="none" opacity="0.8"/><path d="M913.1 829.5V887.7" stroke="#E69F00" stroke-width="2.3" stroke-linecap="round" fill="none" opacity="0.8"/>
<path d="M913.8 871.4H972" stroke="#F0E442" stroke-width="2.3" stroke-linecap="round" fill="none" opacity="0.8"/><path d="M942.9 842.3V900.5" stroke="#F0E442" stroke-width="2.3" stroke-linecap="round" fill="none" opacity="0.8"/>
<path d="M1025.1 703.7H1083.3" stroke="#D55E00" stroke-width="2.3" stroke-linecap="round" fill="none" opacity="0.8"/><path d="M1054.2 674.6V732.8" stroke="#D55E00" stroke-width="2.3" stroke-linecap="round" fill="none" opacity="0.8"/>
<path d="M999.5 757.2H1057.7" stroke="#D55E00" stroke-width="2.3" stroke-linecap="round" fill="none" opacity="0.8"/><path d="M1028.6 728.1V786.3" stroke="#D55E00" stroke-width="2.3" stroke-linecap="round" fill="none" opacity="0.8"/>
<path d="M1178.1 695.2H1236.3" stroke="#D55E00" stroke-width="2.3" stroke-linecap="round" fill="none" opacity="0.8"/><path d="M1207.2 666.1V724.3" stroke="#D55E00" stroke-width="2.3" stroke-linecap="round" fill="none" opacity="0.8"/>
<path d="M1151.1 742.7H1209.3" stroke="#E69F00" stroke-width="2.3" stroke-linecap="round" fill="none" opacity="0.8"/><path d="M1180.2 713.6V771.8" stroke="#E69F00" stroke-width="2.3" stroke-linecap="round" fill="none" opacity="0.8"/>
<path d="M1199.5 744H1257.7" stroke="#E69F00" stroke-width="2.3" stroke-linecap="round" fill="none" opacity="0.8"/><path d="M1228.6 714.9V773.1" stroke="#E69F00" stroke-width="2.3" stroke-linecap="round" fill="none" opacity="0.8"/>
<path d="M1201.5 739.9H1259.7" stroke="#D55E00" stroke-width="2.3" stroke-linecap="round" fill="none" opacity="0.8"/><path d="M1230.6 710.8V769" stroke="#D55E00" stroke-width="2.3" stroke-linecap="round" fill="none" opacity="0.8"/>
<path d="M1238.7 743.7H1296.9" stroke="#D55E00" stroke-width="2.3" stroke-linecap="round" fill="none" opacity="0.8"/><path d="M1267.8 714.6V772.8" stroke="#D55E00" stroke-width="2.3" stroke-linecap="round" fill="none" opacity="0.8"/>
<path d="M1187 768H1245.2" stroke="#E69F00" stroke-width="2.3" stroke-linecap="round" fill="none" opacity="0.8"/><path d="M1216.1 738.9V797.1" stroke="#E69F00" stroke-width="2.3" stroke-linecap="round" fill="none" opacity="0.8"/>
<path d="M1153.2 802.7H1211.4" stroke="#D55E00" stroke-width="2.3" stroke-linecap="round" fill="none" opacity="0.8"/><path d="M1182.3 773.6V831.8" stroke="#D55E00" stroke-width="2.3" stroke-linecap="round" fill="none" opacity="0.8"/>
<path d="M1352.5 658H1410.7" stroke="#D55E00" stroke-width="2.3" stroke-linecap="round" fill="none" opacity="0.8"/><path d="M1381.6 628.9V687.1" stroke="#D55E00" stroke-width="2.3" stroke-linecap="round" fill="none" opacity="0.8"/>
<path d="M1332.3 665.8H1390.5" stroke="#D55E00" stroke-width="2.3" stroke-linecap="round" fill="none" opacity="0.8"/><path d="M1361.4 636.7V694.9" stroke="#D55E00" stroke-width="2.3" stroke-linecap="round" fill="none" opacity="0.8"/>
<path d="M1326 689.8H1384.2" stroke="#D55E00" stroke-width="2.3" stroke-linecap="round" fill="none" opacity="0.8"/><path d="M1355.1 660.7V718.9" stroke="#D55E00" stroke-width="2.3" stroke-linecap="round" fill="none" opacity="0.8"/>
<path d="M1487.7 649H1545.9" stroke="#D55E00" stroke-width="2.3" stroke-linecap="round" fill="none" opacity="0.8"/><path d="M1516.8 619.9V678.1" stroke="#D55E00" stroke-width="2.3" stroke-linecap="round" fill="none" opacity="0.8"/>
<path d="M1525.5 628H1583.7" stroke="#D55E00" stroke-width="2.3" stroke-linecap="round" fill="none" opacity="0.8"/><path d="M1554.6 598.9V657.1" stroke="#D55E00" stroke-width="2.3" stroke-linecap="round" fill="none" opacity="0.8"/>
<path d="M1544.1 631.7H1602.3" stroke="#D55E00" stroke-width="2.3" stroke-linecap="round" fill="none" opacity="0.8"/><path d="M1573.2 602.6V660.8" stroke="#D55E00" stroke-width="2.3" stroke-linecap="round" fill="none" opacity="0.8"/>
</g>
<rect x="167.3" y="4.6" width="1822" height="1424.1" fill="none" stroke="#383838" stroke-width="2.5"/>
<path d="M231.3 1429.7V1442.0" stroke="#333" stroke-width="4.9"/>
<text class="tk" x="231.3" y="1485.3" text-anchor="middle">-0.4</text>
<path d="M583.35 1429.7V1442.0" stroke="#333" stroke-width="4.9"/>
<text class="tk" x="583.35" y="1485.3" text-anchor="middle">-0.2</text>
<path d="M935.4 1429.7V1442.0" stroke="#333" stroke-width="4.9"/>
<text class="tk" x="935.4" y="1485.3" text-anchor="middle">0.0</text>
<path d="M1287.45 1429.7V1442.0" stroke="#333" stroke-width="4.9"/>
<text class="tk" x="1287.45" y="1485.3" text-anchor="middle">0.2</text>
<path d="M1639.5 1429.7V1442.0" stroke="#333" stroke-width="4.9"/>
<text class="tk" x="1639.5" y="1485.3" text-anchor="middle">0.4</text>
<path d="M166.3 29.6H154.0" stroke="#333" stroke-width="4.9"/>
<text class="tk" x="141" y="45.6" text-anchor="end">0.4</text>
<path d="M166.3 414.6H154.0" stroke="#333" stroke-width="4.9"/>
<text class="tk" x="141" y="430.6" text-anchor="end">0.2</text>
<path d="M166.3 799.6H154.0" stroke="#333" stroke-width="4.9"/>
<text class="tk" x="141" y="815.6" text-anchor="end">0.0</text>
<path d="M166.3 1184.6H154.0" stroke="#333" stroke-width="4.9"/>
<text class="tk" x="141" y="1200.6" text-anchor="end">-0.2</text>
<text class="tt" x="1078.3" y="1546.4" text-anchor="middle">NMDS1</text>
<text class="tt" transform="translate(44 716.6) rotate(-90)" text-anchor="middle">NMDS2</text>
<text x="1727.7" y="87.2" text-anchor="middle" style="font-size:51.1px;fill:#000">Stress = 0.1035</text>
<text class="tt" x="2069.5" y="168.3">Farm</text>
<path d="M2079.9 238.8H2138.1" stroke="#000" stroke-width="2.3" stroke-linecap="round" fill="none" opacity="0.8"/><path d="M2109 209.7V267.9" stroke="#000" stroke-width="2.3" stroke-linecap="round" fill="none" opacity="0.8"/>
<path d="M2097.5 238.8H2120.5" stroke="#000" stroke-width="2.8" stroke-linecap="round" fill="none"/><path d="M2109 227.3V250.3" stroke="#000" stroke-width="2.8" stroke-linecap="round" fill="none"/>
<text class="lg" x="2174" y="255.2">North-A</text>
<rect x="2088.4" y="295.2" width="41.2" height="41.2" stroke="#000" stroke-width="2.3" stroke-linecap="round" stroke-linejoin="round" fill="none" opacity="0.8"/><path d="M2088.4 295.2L2129.6 336.4" stroke="#000" stroke-width="2.3" stroke-linecap="round" stroke-linejoin="round" fill="none" opacity="0.8"/><path d="M2088.4 336.4L2129.6 295.2" stroke="#000" stroke-width="2.3" stroke-linecap="round" stroke-linejoin="round" fill="none" opacity="0.8"/>
<rect x="2100.8" y="307.7" width="16.3" height="16.3" stroke="#000" stroke-width="2.8" stroke-linecap="round" stroke-linejoin="round" fill="none"/><path d="M2100.8 307.7L2117.2 323.9" stroke="#000" stroke-width="2.8" stroke-linecap="round" stroke-linejoin="round" fill="none"/><path d="M2100.8 323.9L2117.2 307.7" stroke="#000" stroke-width="2.8" stroke-linecap="round" stroke-linejoin="round" fill="none"/>
<text class="lg" x="2174" y="332.2">North-B</text>
<circle cx="2109" cy="393" r="20.45" stroke="#000" stroke-width="2.3" stroke-linecap="round" fill="none" opacity="0.8"/><path d="M2088.6 393H2129.4" stroke="#000" stroke-width="2.3" stroke-linecap="round" fill="none" opacity="0.8"/><path d="M2109 372.6V413.4" stroke="#000" stroke-width="2.3" stroke-linecap="round" fill="none" opacity="0.8"/>
<circle cx="2109" cy="393" r="8.15" stroke="#000" stroke-width="2.8" stroke-linecap="round" fill="none"/><path d="M2100.8 393H2117.2" stroke="#000" stroke-width="2.8" stroke-linecap="round" fill="none"/><path d="M2109 384.9V401.1" stroke="#000" stroke-width="2.8" stroke-linecap="round" fill="none"/>
<text class="lg" x="2174" y="409.4">North-C</text>
<rect x="2088.8" y="450.1" width="40.4" height="40.4" fill="#000" opacity="0.7"/>
<rect x="2100.8" y="462.2" width="16.3" height="16.3" fill="#000"/>
<text class="lg" x="2174" y="486.7">South-A</text>
<circle cx="2109" cy="547.3" r="20.2" fill="#000" opacity="0.7"/>
<circle cx="2109" cy="547.3" r="8.2" fill="#000"/>
<text class="lg" x="2174" y="563.7">South-B</text>
<path d="M2109 593.5L2136.2 640.6H2081.8Z" fill="#000" opacity="0.7"/>
<path d="M2109 612.2L2120 631.2H2098Z" fill="#000"/>
<text class="lg" x="2174" y="641.3">South-C</text>
<text class="tt" x="2069.5" y="815.3" letter-spacing="-0.28">Distance category</text>
<circle cx="2109" cy="885.6" r="9.4" fill="#D55E00"/>
<circle cx="2109" cy="885.6" r="20.2" fill="#D55E00" opacity="0.7"/>
<circle cx="2109" cy="885.6" r="20.2" fill="none" stroke="#D55E00" stroke-width="2.3" opacity="0.7"/>
<text class="lg" x="2174" y="901.2">0-100m</text>
<circle cx="2109" cy="962.9" r="9.4" fill="#E69F00"/>
<circle cx="2109" cy="962.9" r="20.2" fill="#E69F00" opacity="0.7"/>
<circle cx="2109" cy="962.9" r="20.2" fill="none" stroke="#E69F00" stroke-width="2.3" opacity="0.7"/>
<text class="lg" x="2174" y="978.5">101-300m</text>
<circle cx="2109" cy="1040.2" r="9.4" fill="#F0E442"/>
<circle cx="2109" cy="1040.2" r="20.2" fill="#F0E442" opacity="0.7"/>
<circle cx="2109" cy="1040.2" r="20.2" fill="none" stroke="#F0E442" stroke-width="2.3" opacity="0.7"/>
<text class="lg" x="2174" y="1055.8">301-500m</text>
<circle cx="2109" cy="1117.5" r="9.4" fill="#009E73"/>
<circle cx="2109" cy="1117.5" r="20.2" fill="#009E73" opacity="0.7"/>
<circle cx="2109" cy="1117.5" r="20.2" fill="none" stroke="#009E73" stroke-width="2.3" opacity="0.7"/>
<text class="lg" x="2174" y="1133.1">501-800m</text>
<circle cx="2109" cy="1194.8" r="9.4" fill="#0072B2"/>
<circle cx="2109" cy="1194.8" r="20.2" fill="#0072B2" opacity="0.7"/>
<circle cx="2109" cy="1194.8" r="20.2" fill="none" stroke="#0072B2" stroke-width="2.3" opacity="0.7"/>
<text class="lg" x="2174" y="1210.4">801-1100m</text>
<circle cx="2109" cy="1272.1" r="9.4" fill="#000000"/>
<circle cx="2109" cy="1272.1" r="20.2" fill="#000000" opacity="0.7"/>
<circle cx="2109" cy="1272.1" r="20.2" fill="none" stroke="#000000" stroke-width="2.3" opacity="0.7"/>
<text class="lg" x="2174" y="1287.7">1101m+</text>
</svg></body></html>
